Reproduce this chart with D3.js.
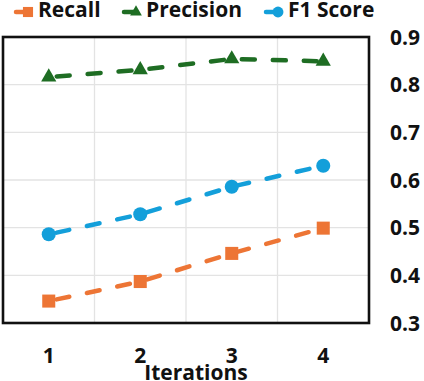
<!DOCTYPE html>
<html lang="en">
<head>
  <meta charset="utf-8" />
  <title>Recall / Precision / F1 over iterations</title>
  <style>
    body { margin: 0; background: #fff; }
    svg { display: block; font-family: 'Open Sans', 'Noto Sans', sans-serif; }
    .tick-label { font-size: 21px; font-weight: 700; fill: #111; }
    .axis-title { font-size: 21px; font-weight: 700; fill: #111; }
    .legend text { font-size: 21px; font-weight: 700; fill: #111; }
    .grid line { stroke: #e3e3e3; stroke-width: 1.3px; }
  </style>
</head>
<body>
<div id="chart"></div>
<script src="https://d3js.org/d3.v7.min.js"></script>
<script>
// data
const iterations = [1, 2, 3, 4];
const recall     = [0.346, 0.387, 0.446, 0.499];
const precision  = [0.816, 0.831, 0.854, 0.849];
const f1score    = [0.486, 0.528, 0.586, 0.630];
const yTicks     = [0.3, 0.4, 0.5, 0.6, 0.7, 0.8, 0.9];

const series = [
  { name: "Recall",    values: recall,    color: "#ed7535", shape: d3.symbolSquare,   size: 170 },
  { name: "Precision", values: precision, color: "#1e6d23", shape: d3.symbolTriangle, size: 100 },
  { name: "F1 Score",  values: f1score,   color: "#139fda", shape: d3.symbolCircle,   size: 155 }
];

const W = 424, H = 381;
const plot = { left: 3, right: 369, top: 37, bottom: 323 };

const x = d3.scaleLinear().domain([0.5, 4.5]).range([plot.left, plot.right]);
const y = d3.scaleLinear().domain([0.3, 0.9]).range([plot.bottom, plot.top]);

const svg = d3.select("#chart").append("svg")
  .attr("width", W)
  .attr("height", H);

// gridlines
const grid = svg.append("g").attr("class", "grid");
grid.selectAll("line.h")
  .data(yTicks.slice(1, -1))
  .join("line")
  .attr("x1", plot.left).attr("x2", plot.right)
  .attr("y1", d => y(d)).attr("y2", d => y(d));
grid.selectAll("line.v")
  .data(iterations.slice(0, -1))
  .join("line")
  .attr("x1", d => x(d + 0.5)).attr("x2", d => x(d + 0.5))
  .attr("y1", plot.top).attr("y2", plot.bottom);

// y tick labels on the right
svg.append("g").selectAll("text")
  .data(yTicks)
  .join("text")
  .attr("class", "tick-label")
  .attr("x", 390)
  .attr("y", d => y(d))
  .attr("dy", "0.36em")
  .text(d => d.toFixed(1));

// x tick labels
svg.append("g").selectAll("text")
  .data(iterations)
  .join("text")
  .attr("class", "tick-label")
  .attr("text-anchor", "middle")
  .attr("x", d => x(d))
  .attr("y", 363)
  .text(d => d);

svg.append("text")
  .attr("class", "axis-title")
  .attr("text-anchor", "middle")
  .attr("x", 196)
  .attr("y", 380)
  .text("Iterations");

// lines + markers
const line = d3.line()
  .x((d, i) => x(iterations[i]))
  .y(d => y(d));

series.forEach(s => {
  svg.append("path")
    .datum(s.values)
    .attr("fill", "none")
    .attr("stroke", s.color)
    .attr("stroke-width", 4.5)
    .attr("stroke-linecap", "round")
    .attr("stroke-dasharray", "13,18")
    .attr("stroke-dashoffset", -8)
    .attr("d", line);

  svg.append("g").selectAll("path")
    .data(s.values)
    .join("path")
    .attr("fill", s.color)
    .attr("transform", (d, i) => `translate(${x(iterations[i])},${y(d)})`)
    .attr("d", d3.symbol().type(s.shape).size(s.size));
});

// frame
svg.append("rect")
  .attr("x", plot.left).attr("y", plot.top)
  .attr("width", plot.right - plot.left)
  .attr("height", plot.bottom - plot.top)
  .attr("fill", "none")
  .attr("stroke", "#111")
  .attr("stroke-width", 2.6);

// legend
const legendX = [15, 123, 265];
const legend = svg.append("g").attr("class", "legend");
series.forEach((s, i) => {
  const g = legend.append("g").attr("transform", `translate(${legendX[i]},12)`);
  g.append("line")
    .attr("x1", 1).attr("x2", 12)
    .attr("stroke", s.color).attr("stroke-width", 4.5).attr("stroke-linecap", "round");
  g.append("path")
    .attr("fill", s.color)
    .attr("transform", "translate(13,0)")
    .attr("d", d3.symbol().type(s.shape).size(s.size * 0.6));
  g.append("text")
    .attr("x", 23)
    .attr("y", 5)
    .text(s.name);
});
</script>
</body>
</html>
